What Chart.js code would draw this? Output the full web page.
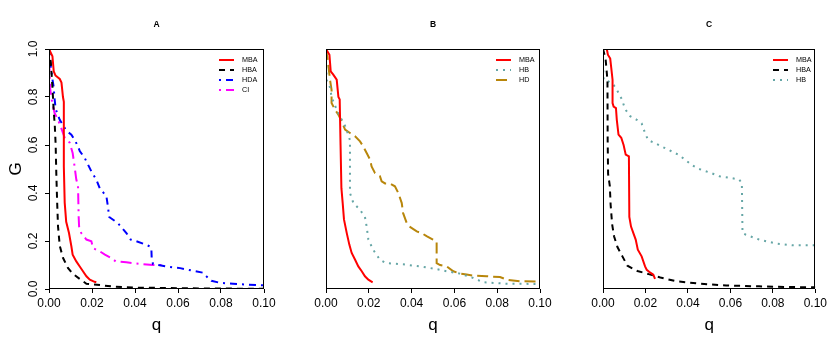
<!DOCTYPE html>
<html>
<head>
<meta charset="utf-8">
<script src="https://cdn.jsdelivr.net/npm/chart.js@4.4.1/dist/chart.umd.min.js"></script>
<style>
  body { margin: 0; background: #fff; }
  #wrap { position: relative; width: 830px; height: 340px; }
  canvas { position: absolute; top: 0; }
</style>
</head>
<body>
<div id="wrap">
  <canvas id="chartA" width="280" height="340" style="left:0"></canvas>
  <canvas id="chartB" width="280" height="340" style="left:280px"></canvas>
  <canvas id="chartC" width="270" height="340" style="left:560px"></canvas>
</div>
<script>
// ------- DATA (q on x, G on y) -------
const xTicks = [0, 0.02, 0.04, 0.06, 0.08, 0.10];
const yTicks = [0, 0.2, 0.4, 0.6, 0.8, 1.0];

// panel A
const mbaA_q = [0, 0.0003, 0.0016, 0.0022, 0.003, 0.005, 0.0058, 0.0065, 0.0069, 0.0069, 0.0073, 0.008, 0.0093, 0.0104, 0.011, 0.0127, 0.0143, 0.0158, 0.0174, 0.019, 0.0212, 0.022];
const mbaA_g = [1.0, 1.0, 0.97, 0.907, 0.89, 0.875, 0.86, 0.80, 0.78, 0.51, 0.36, 0.28, 0.233, 0.178, 0.143, 0.115, 0.094, 0.074, 0.053, 0.039, 0.03, 0.028];
const hbaA_q = [0, 0.0008, 0.0016, 0.0022, 0.0027, 0.0031, 0.0034, 0.0038, 0.0042, 0.005, 0.0065, 0.0088, 0.011, 0.0143, 0.0174, 0.024, 0.031, 0.039, 0.055, 0.075, 0.1];
const hbaA_g = [1.0, 0.95, 0.84, 0.74, 0.68, 0.60, 0.48, 0.36, 0.26, 0.18, 0.13, 0.088, 0.064, 0.042, 0.022, 0.016, 0.009, 0.006, 0.004, 0.002, 0.001];
const hdaA_q = [0, 0.0008, 0.0015, 0.0022, 0.0025, 0.0031, 0.005, 0.008, 0.0104, 0.012, 0.0135, 0.0143, 0.0166, 0.0197, 0.022, 0.0236, 0.0267, 0.0274, 0.028, 0.032, 0.036, 0.038, 0.0406, 0.0437, 0.0468, 0.0476, 0.0478, 0.0484, 0.0546, 0.061, 0.067, 0.0716, 0.0732, 0.0755, 0.0794, 0.0856, 0.093, 0.1];
const hdaA_g = [0.98, 0.93, 0.88, 0.84, 0.80, 0.75, 0.705, 0.66, 0.643, 0.62, 0.594, 0.575, 0.546, 0.49, 0.456, 0.42, 0.386, 0.344, 0.30, 0.275, 0.233, 0.206, 0.199, 0.189, 0.178, 0.17, 0.12, 0.104, 0.094, 0.087, 0.076, 0.068, 0.053, 0.034, 0.026, 0.022, 0.018, 0.015];
const ciA_q = [0, 0.0003, 0.0005, 0.001, 0.0026, 0.0042, 0.0057, 0.0073, 0.0096, 0.011, 0.0119, 0.0127, 0.0135, 0.0138, 0.014, 0.015, 0.0174, 0.0197, 0.0205, 0.0236, 0.026, 0.029, 0.031, 0.036, 0.042, 0.0484, 0.053];
const ciA_g = [0.98, 0.90, 0.84, 0.80, 0.733, 0.705, 0.67, 0.63, 0.61, 0.567, 0.51, 0.456, 0.43, 0.30, 0.26, 0.233, 0.206, 0.199, 0.17, 0.157, 0.143, 0.129, 0.115, 0.111, 0.105, 0.10, 0.10];

// panel B
const mbaB_q = [0, 0.0003, 0.0016, 0.0022, 0.0034, 0.005, 0.0058, 0.0064, 0.0068, 0.0072, 0.0078, 0.0084, 0.0097, 0.0109, 0.012, 0.0136, 0.0151, 0.0167, 0.0182, 0.0198, 0.0218];
const mbaB_g = [1.0, 1.0, 0.976, 0.907, 0.893, 0.872, 0.80, 0.79, 0.60, 0.42, 0.358, 0.29, 0.233, 0.185, 0.15, 0.122, 0.094, 0.074, 0.053, 0.039, 0.028];
const hbB_q = [0, 0.0003, 0.0019, 0.0026, 0.005, 0.0065, 0.0089, 0.0104, 0.0112, 0.0112, 0.0128, 0.0159, 0.0182, 0.019, 0.0198, 0.022, 0.0252, 0.028, 0.036, 0.044, 0.0517, 0.0564, 0.0626, 0.0688, 0.0735, 0.0844, 0.1];
const hbB_g = [0.96, 0.87, 0.84, 0.80, 0.747, 0.72, 0.68, 0.643, 0.62, 0.40, 0.358, 0.33, 0.30, 0.26, 0.206, 0.164, 0.122, 0.108, 0.103, 0.094, 0.083, 0.074, 0.064, 0.046, 0.028, 0.022, 0.021];
const hdB_q = [0, 0.0008, 0.0019, 0.0026, 0.0026, 0.0042, 0.0058, 0.0073, 0.0089, 0.0112, 0.0136, 0.0159, 0.0174, 0.019, 0.0206, 0.0213, 0.0229, 0.0252, 0.026, 0.0276, 0.03, 0.0322, 0.0338, 0.0354, 0.036, 0.0377, 0.039, 0.0424, 0.0447, 0.047, 0.050, 0.0517, 0.0517, 0.0533, 0.0564, 0.0595, 0.0626, 0.0657, 0.0688, 0.075, 0.0813, 0.0844, 0.0907, 0.1];
const hdB_g = [1.0, 0.955, 0.87, 0.83, 0.775, 0.747, 0.726, 0.70, 0.664, 0.65, 0.636, 0.615, 0.594, 0.567, 0.539, 0.511, 0.483, 0.47, 0.449, 0.44, 0.439, 0.428, 0.40, 0.358, 0.317, 0.275, 0.26, 0.24, 0.233, 0.22, 0.206, 0.199, 0.108, 0.10, 0.094, 0.074, 0.064, 0.06, 0.056, 0.053, 0.05, 0.039, 0.032, 0.031];

// panel C
const mbaC_q = [0.0011, 0.0018, 0.0023, 0.0034, 0.0039, 0.0045, 0.0045, 0.005, 0.0061, 0.0065, 0.0073, 0.0086, 0.0097, 0.0107, 0.0122, 0.0124, 0.0132, 0.0143, 0.0154, 0.0164, 0.0182, 0.0198, 0.0206, 0.0221, 0.0237, 0.0245];
const mbaC_g = [1.0, 1.0, 0.976, 0.96, 0.92, 0.872, 0.775, 0.76, 0.754, 0.705, 0.643, 0.63, 0.60, 0.56, 0.553, 0.30, 0.26, 0.233, 0.206, 0.164, 0.136, 0.094, 0.08, 0.069, 0.06, 0.042];
const hbaC_q = [0, 0.0012, 0.0021, 0.0022, 0.0024, 0.0032, 0.0036, 0.0043, 0.0052, 0.0068, 0.0092, 0.0115, 0.0162, 0.0215, 0.027, 0.0346, 0.0455, 0.058, 0.0735, 0.089, 0.1];
const hbaC_g = [1.0, 0.96, 0.87, 0.62, 0.48, 0.43, 0.35, 0.27, 0.22, 0.175, 0.135, 0.097, 0.075, 0.062, 0.048, 0.032, 0.022, 0.015, 0.011, 0.008, 0.007];
const hbC_q = [0, 0.0003, 0.0026, 0.005, 0.0065, 0.0089, 0.0104, 0.0128, 0.0159, 0.0182, 0.0198, 0.0213, 0.0245, 0.0276, 0.0322, 0.0354, 0.0385, 0.0416, 0.0447, 0.051, 0.0548, 0.0603, 0.0642, 0.0654, 0.0657, 0.0673, 0.0735, 0.0813, 0.089, 0.1];
const hbC_g = [0.94, 0.87, 0.865, 0.85, 0.83, 0.79, 0.75, 0.72, 0.705, 0.69, 0.65, 0.62, 0.608, 0.594, 0.574, 0.56, 0.54, 0.518, 0.502, 0.483, 0.47, 0.4625, 0.456, 0.44, 0.233, 0.226, 0.206, 0.19, 0.182, 0.182];

// ------- STYLE HELPERS -------
Chart.defaults.font.family = '"Liberation Sans", Arial, sans-serif';
Chart.defaults.color = '#000';

function series(label, qs, gs, color, dash) {
    return {
        label: label,
        data: qs.map((q, i) => ({ x: q, y: gs[i] })),
        borderColor: color,
        borderWidth: 2,
        borderDash: dash,
        pointRadius: 0,
        showLine: true,
        fill: false,
        tension: 0
    };
}

// box, panel letter and legend, R style
const panelDeco = {
    id: 'panelDeco',
    afterDatasetsDraw(chart, args, opts) {
        const ctx = chart.ctx, a = chart.chartArea;
        ctx.save();
        ctx.strokeStyle = '#000';
        ctx.lineWidth = 1;
        ctx.setLineDash([]);
        const l = Math.round(a.left) + 0.5, t = Math.round(a.top) + 0.5;
        const r = Math.round(a.right) - 0.5, b = Math.round(a.bottom) - 0.5;
        ctx.strokeRect(l, t, r - l, b - t);

        ctx.fillStyle = '#000';
        ctx.font = 'bold 8.5px "Liberation Sans"';
        ctx.textAlign = 'center';
        ctx.textBaseline = 'middle';
        ctx.fillText(opts.letter, (a.left + a.right) / 2, 25);

        ctx.font = '7.2px "Liberation Sans"';
        ctx.textAlign = 'left';
        chart.data.datasets.forEach((ds, i) => {
            const y = opts.top + i * 10;
            ctx.strokeStyle = ds.borderColor;
            ctx.lineWidth = 2;
            ctx.setLineDash(ds.borderDash || []);
            ctx.beginPath();
            ctx.moveTo(opts.x1, y);
            ctx.lineTo(opts.x1 + 15, y);
            ctx.stroke();
            ctx.fillText(ds.label, opts.x1 + 23, y);
        });
        ctx.restore();
    }
};

function makePanel(id, letter, datasets, pad, legendX, showY) {
    const yScale = {
        min: 0, max: 1,
        display: showY,
        afterBuildTicks: s => { s.ticks = yTicks.map(v => ({ value: v })); },
        ticks: { callback: v => Number(v).toFixed(1), minRotation: 90, maxRotation: 90, crossAlign: 'center', padding: 3, font: { size: 12 } },
        grid: { drawOnChartArea: false, tickLength: 4, color: '#000' },
        border: { display: false },
        title: { display: true, text: 'G', font: { size: 17 }, padding: { top: 6, bottom: 0 } },
        afterFit: s => { s.width = showY ? 49 : 0; }
    };
    new Chart(document.getElementById(id), {
        type: 'scatter',
        data: { datasets: datasets },
        options: {
            responsive: false,
            animation: false,
            devicePixelRatio: 1,
            layout: { padding: pad },
            plugins: {
                legend: { display: false },
                tooltip: { enabled: false },
                panelDeco: { letter: letter, x1: legendX, top: 60 }
            },
            scales: {
                x: {
                    type: 'linear', min: 0, max: 0.1,
                    afterBuildTicks: s => { s.ticks = xTicks.map(v => ({ value: v })); },
                    ticks: { callback: v => Number(v).toFixed(2), maxRotation: 0, padding: 3, font: { size: 12 } },
                    grid: { drawOnChartArea: false, tickLength: 4, color: '#000' },
                    border: { display: false },
                    title: { display: true, text: 'q', font: { size: 17 }, padding: { top: 0, bottom: 4 } },
                    afterFit: s => { s.height = 51; }
                },
                y: yScale
            }
        },
        plugins: [panelDeco]
    });
}

// ------- PANELS -------
const RED = '#ff0000', BLACK = '#000000', BLUE = '#0000ff', MAGENTA = '#ff00ff', TEAL = '#66a6a6', GOLD = '#b8860b';
const DASH = [6, 5], DOTDASH = [2, 5, 7, 5], DOTLONG = [2, 5, 11, 5], DOT = [2, 5], LONG = [11, 5];

makePanel('chartA', 'A', [
    series('MBA', mbaA_q, mbaA_g, RED, []),
    series('HBA', hbaA_q, hbaA_g, BLACK, DASH),
    series('HDA', hdaA_q, hdaA_g, BLUE, DOTDASH),
    series('CI', ciA_q, ciA_g, MAGENTA, DOTLONG)
], { left: 0, right: 16, top: 49, bottom: 0 }, 219, true);

makePanel('chartB', 'B', [
    series('MBA', mbaB_q, mbaB_g, RED, []),
    series('HB', hbB_q, hbB_g, TEAL, DOT),
    series('HD', hdB_q, hdB_g, GOLD, LONG)
], { left: 46, right: 20, top: 49, bottom: 0 }, 216, false);

makePanel('chartC', 'C', [
    series('MBA', mbaC_q, mbaC_g, RED, []),
    series('HBA', hbaC_q, hbaC_g, BLACK, DASH),
    series('HB', hbC_q, hbC_g, TEAL, DOT)
], { left: 43, right: 13, top: 49, bottom: 0 }, 213, false);
</script>
</body>
</html>
